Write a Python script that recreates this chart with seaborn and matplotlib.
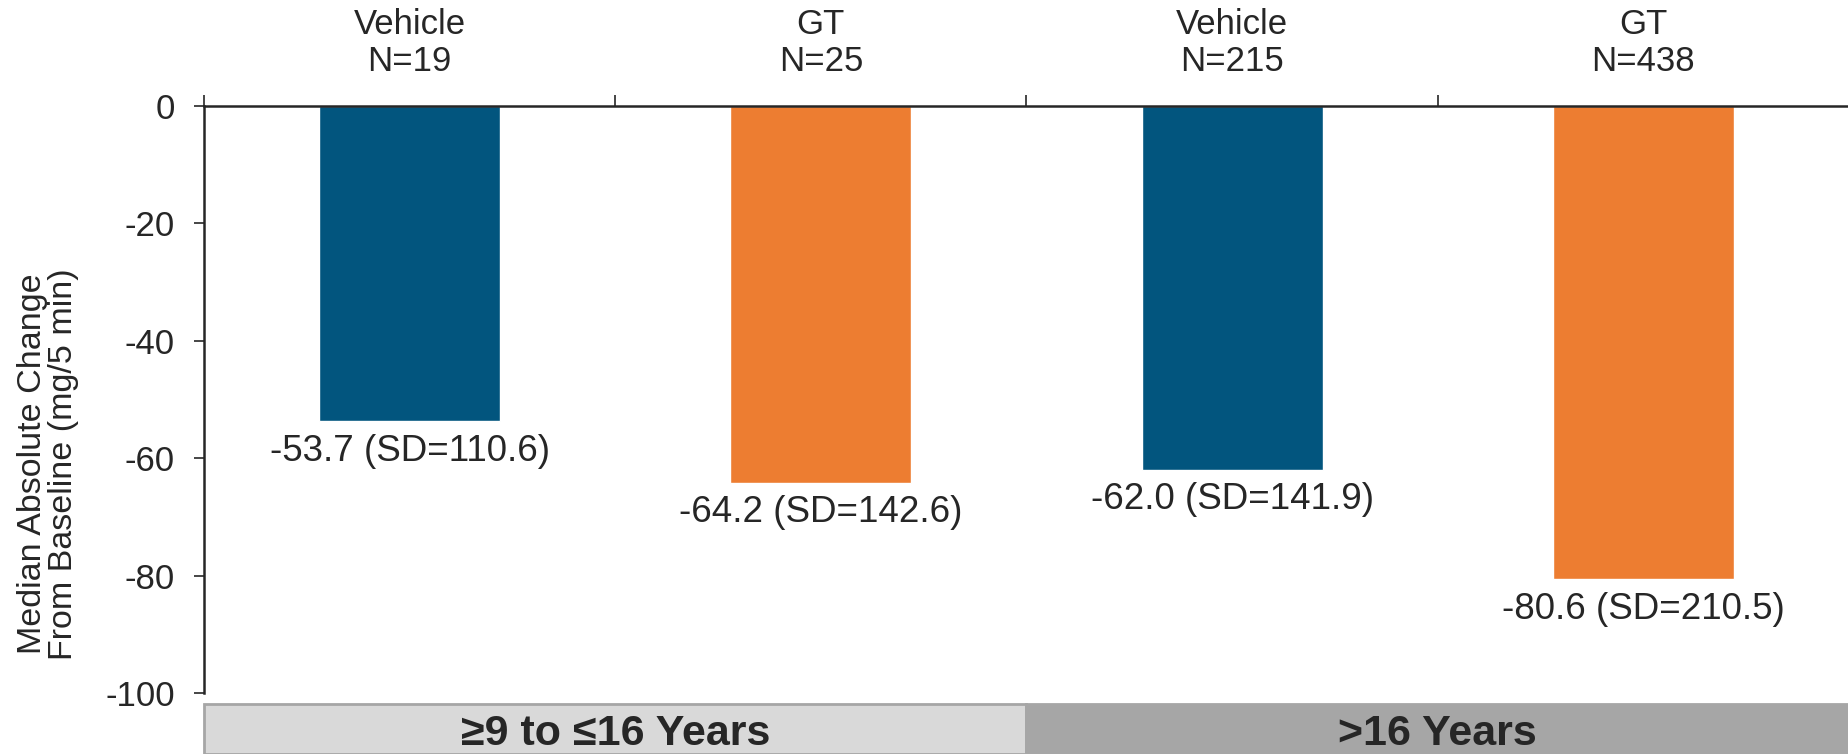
import pandas as pd
import numpy as np
import matplotlib
matplotlib.use("Agg")
import matplotlib.pyplot as plt
from matplotlib.ticker import FixedLocator
import seaborn as sns

# Datos
groups = ["Vehicle\nN=19", "GT\nN=25", "Vehicle\nN=215", "GT\nN=438"]
treatments = ["Vehicle", "GT", "Vehicle", "GT"]
medians = [-53.7, -64.2, -62.0, -80.6]
sds = [110.6, 142.6, 141.9, 210.5]
age_bands = ["\u22659 to \u226416 Years", ">16 Years"]
y_ticks = [0, -20, -40, -60, -80, -100]

colors = {"Vehicle": "#02557E", "GT": "#ED7D31"}
text_col = "#262626"

sns.set_style("white")
plt.rcParams["font.family"] = ["Liberation Sans", "DejaVu Sans"]
narrow = ["Liberation Sans Narrow", "Liberation Sans", "DejaVu Sans"]

df = pd.DataFrame({"group": groups, "trt": treatments, "median": medians, "sd": sds})

W, H = 1849, 754
fig = plt.figure(figsize=(W / 100, H / 100), dpi=100)
ax = fig.add_axes([204 / W, 1 - 693 / H, 1 - 204 / W, (693 - 106) / H])

sns.barplot(data=df, x="group", y="median", hue="trt", palette=colors,
            dodge=False, width=0.44, legend=False, ax=ax, saturation=1)

ax.set_ylim(-100, 0)
ax.set_xlim(-0.5, len(groups) - 0.5)
ax.set_yticks(y_ticks)
ax.set_yticklabels([str(t) for t in y_ticks])
ax.tick_params(axis="y", direction="out", length=7, width=1.2, colors=text_col,
               labelsize=25, pad=14, left=True)

# etiquetas de grupo arriba
ax.xaxis.tick_top()
ax.set_xticks(range(len(groups)))
ax.set_xticklabels(groups, family=narrow, fontsize=25, color=text_col, linespacing=1.15)
ax.tick_params(axis="x", which="major", length=0, pad=20)
ax.xaxis.set_minor_locator(FixedLocator(np.arange(-0.5, len(groups), 1.0)))
ax.tick_params(axis="x", which="minor", top=True, direction="out", length=8,
               width=1.2, color=text_col)
ax.set_xlabel("")
ax.set_ylabel("Median Absolute Change\nFrom Baseline (mg/5 min)", fontsize=24.5,
              color=text_col, linespacing=1.0)
ax.yaxis.set_label_coords(-0.076, 0.39)

for s in ["right", "bottom"]:
    ax.spines[s].set_visible(False)
for s in ["left", "top"]:
    ax.spines[s].set_color(text_col)
    ax.spines[s].set_linewidth(1.8)

for i, (m, sd) in enumerate(zip(medians, sds)):
    ax.annotate(f"{m:.1f} (SD={sd:.1f})", xy=(i, m), xytext=(0, -9),
                textcoords="offset points", ha="center", va="top",
                fontsize=26.5, color=text_col)

# banda inferior de edades
bax = fig.add_axes([204 / W, 0, 1 - 204 / W, 50 / H])
bax.set_xlim(-0.5, len(groups) - 0.5)
bax.set_ylim(0, 1)
bax.axis("off")
band_cols = ["#D9D9D9", "#A6A6A6"]
for k, lab in enumerate(age_bands):
    x0 = -0.5 + 2 * k
    bax.add_patch(plt.Rectangle((x0, 0), 2, 1, facecolor=band_cols[k],
                                edgecolor="#A6A6A6", linewidth=2, clip_on=False))
    bax.text(x0 + 1, 0.4, lab, ha="center", va="center", fontsize=31,
             fontweight="bold", family=narrow, color=text_col)

plt.savefig("out.png", dpi=100)
